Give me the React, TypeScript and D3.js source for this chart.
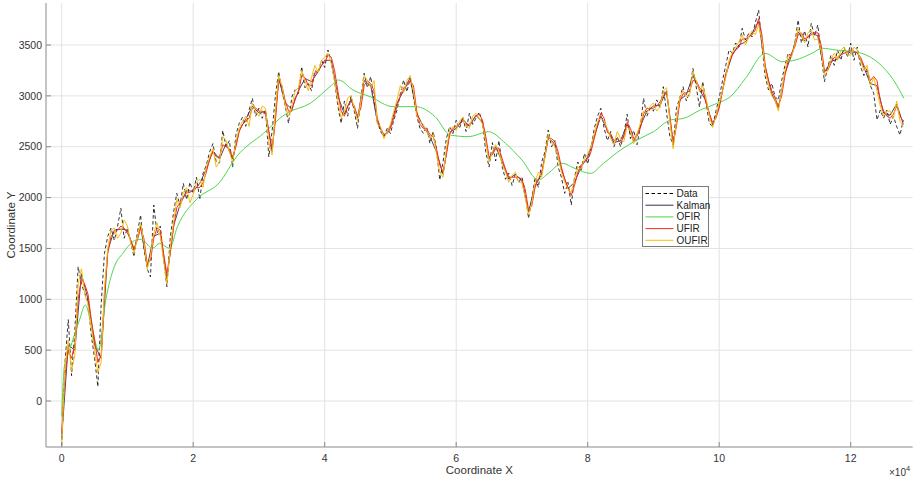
import React from "react";
import * as d3 from "d3";

// ---- data ----
const DATA_STEP = 500; // x spacing of measured samples
const FINE_STEP = 500; // x spacing of UFIR / OUFIR outputs
const KALMAN_STEP = 1000; // x spacing of Kalman outputs

const dataY: number[] = [
  -440, 380, 800, 250, 700, 1320, 1150, 1060, 980, 650,
  420, 141, 950, 1450, 1620, 1700, 1580, 1720, 1895, 1600,
  1700, 1560, 1419, 1650, 1829, 1500, 1300, 1222, 1927, 1650,
  1720, 1400, 1124, 1600, 1850, 2042, 1920, 2140, 1980, 2150,
  2050, 2200, 1980, 2240, 2320, 2450, 2530, 2350, 2340, 2660,
  2500, 2560, 2300, 2620, 2730, 2790, 2700, 2860, 2976, 2800,
  2880, 2780, 2860, 2400, 2650, 3000, 3238, 3050, 2900, 2730,
  2990, 3060, 3020, 3287, 3080, 3120, 3050, 3250, 3222, 3353,
  3280, 3451, 3330, 3150, 2900, 2730, 2950, 2800, 3000, 2850,
  2681, 2980, 3222, 3080, 3190, 2950, 2750, 2650, 2599, 2680,
  2630, 2760, 2861, 3020, 3156, 3040, 3172, 2990, 2800, 2680,
  2632, 2697, 2533, 2650, 2480, 2173, 2350, 2580, 2697, 2630,
  2760, 2680, 2795, 2650, 2829, 2720, 2780, 2840, 2740, 2450,
  2300, 2540, 2360, 2560, 2300, 2180, 2240, 2120, 2230, 2150,
  2200, 2050, 1796, 1980, 2200, 2100, 2350, 2450, 2664, 2500,
  2560, 2300, 2200, 2042, 2150, 1927, 2200, 2350, 2260, 2435,
  2330, 2480, 2680, 2800, 2878, 2680, 2560, 2650, 2500, 2600,
  2500, 2620, 2820, 2580, 2660, 2520, 2690, 2976, 2800, 2880,
  2850, 2960, 2880, 3090, 2830, 2600, 2517, 2880, 2980, 3090,
  2950, 3040, 3271, 3090, 2890, 3140, 2930, 2730, 2697, 2850,
  2980, 3150, 3300, 3451, 3420, 3520, 3480, 3664, 3549, 3615,
  3580, 3720, 3844, 3500, 3189, 3058, 3123, 2992, 2959, 3150,
  3300, 3420, 3385, 3517, 3746, 3520, 3640, 3480, 3713, 3590,
  3697, 3420, 3140, 3280, 3400, 3300, 3451, 3350, 3480, 3380,
  3517, 3350, 3480, 3287, 3200, 3250, 3100, 3025, 2763, 2861,
  2780, 2861, 2720, 2800, 2697, 2615, 2760,
];

const kalmanY: number[] = [
  -360, 550, 500, 1250, 1000, 550, 420, 1480, 1680, 1690,
  1680, 1480, 1720, 1320, 1620, 1650, 1200, 1720, 1930, 2070,
  2060, 2140, 2280, 2460, 2380, 2530, 2380, 2660, 2770, 2900,
  2830, 2850, 2450, 3170, 2930, 2870, 3050, 3170, 3140, 3240,
  3350, 3350, 3000, 2820, 2970, 2780, 3150, 3100, 2750, 2600,
  2700, 2930, 3050, 3180, 2830, 2700, 2600, 2450, 2230, 2640,
  2680, 2770, 2700, 2810, 2740, 2380, 2500, 2350, 2180, 2230,
  2160, 1860, 2120, 2230, 2600, 2520, 2280, 2090, 2150, 2300,
  2400, 2600, 2800, 2660, 2540, 2560, 2720, 2550, 2700, 2850,
  2900, 2910, 3050, 2510, 2960, 3010, 3200, 3060, 2950, 2710,
  2900, 3200, 3410, 3500, 3530, 3620, 3730, 3280, 3020, 2880,
  3220, 3400, 3630, 3540, 3620, 3590, 3230, 3340, 3360, 3450,
  3420, 3430, 3280, 3120, 3100, 2830, 2810, 2920, 2720,
];

const ufirY: number[] = [
  -300, 250, 500, 420, 550, 1000, 1200, 1150, 1050, 800,
  600, 380, 450, 1050, 1450, 1620, 1650, 1680, 1720, 1700,
  1650, 1580, 1500, 1580, 1700, 1600, 1350, 1380, 1600, 1700,
  1680, 1450, 1250, 1450, 1700, 1900, 1950, 2000, 2050, 2050,
  2080, 2100, 2100, 2150, 2250, 2380, 2450, 2400, 2400, 2520,
  2500, 2480, 2400, 2500, 2650, 2720, 2750, 2780, 2880, 2880,
  2850, 2850, 2820, 2650, 2480, 2750, 3150, 3100, 2950, 2850,
  2850, 2980, 3030, 3200, 3180, 3100, 3100, 3220, 3250, 3300,
  3330, 3400, 3380, 3250, 3050, 2850, 2800, 2900, 2950, 2900,
  2800, 2880, 3100, 3150, 3120, 3050, 2780, 2680, 2620, 2630,
  2680, 2780, 2900, 3000, 3080, 3100, 3150, 3100, 2850, 2720,
  2680, 2680, 2620, 2600, 2480, 2320, 2250, 2420, 2620, 2680,
  2700, 2720, 2750, 2720, 2720, 2760, 2800, 2820, 2760, 2600,
  2400, 2420, 2480, 2480, 2380, 2280, 2200, 2200, 2200, 2200,
  2180, 2080, 1880, 1920, 2100, 2180, 2250, 2400, 2580, 2580,
  2550, 2450, 2300, 2180, 2100, 2020, 2120, 2250, 2320, 2350,
  2380, 2450, 2580, 2720, 2830, 2780, 2640, 2620, 2560, 2580,
  2540, 2600, 2740, 2680, 2580, 2600, 2680, 2820, 2880, 2870,
  2880, 2900, 2940, 3000, 3030, 2800, 2550, 2700, 2940, 3020,
  3030, 3050, 3150, 3150, 3080, 3050, 2930, 2820, 2740, 2780,
  2880, 3050, 3220, 3320, 3400, 3450, 3480, 3560, 3560, 3580,
  3600, 3650, 3760, 3600, 3300, 3150, 3050, 2980, 2900, 3000,
  3200, 3350, 3420, 3480, 3600, 3620, 3560, 3580, 3600, 3620,
  3620, 3500, 3250, 3250, 3320, 3380, 3380, 3400, 3420, 3430,
  3450, 3440, 3420, 3380, 3300, 3250, 3150, 3190, 3150, 2950,
  2850, 2800, 2780, 2820, 2900, 2800, 2750,
];

const oufirY: number[] = [
  -420, 350, 600, 300, 450, 1150, 1300, 1050, 950, 720,
  500, 280, 380, 1100, 1500, 1680, 1700, 1600, 1650, 1780,
  1720, 1550, 1450, 1600, 1750, 1560, 1300, 1420, 1650, 1750,
  1620, 1380, 1150, 1500, 1750, 1980, 1900, 2050, 2100, 1950,
  2030, 2150, 2180, 2100, 2300, 2400, 2480, 2300, 2350, 2600,
  2560, 2450, 2350, 2550, 2680, 2750, 2800, 2700, 2930, 2850,
  2800, 2900, 2880, 2550, 2420, 2850, 3200, 3100, 2900, 2800,
  2900, 3050, 3080, 3250, 3150, 3050, 3180, 3300, 3230, 3350,
  3380, 3420, 3320, 3150, 2950, 2780, 2850, 2980, 3000, 2880,
  2750, 2950, 3200, 3150, 3080, 3150, 2720, 2700, 2580, 2650,
  2720, 2850, 2960, 3100, 3030, 3150, 3200, 3050, 2800, 2750,
  2720, 2650, 2580, 2620, 2430, 2250, 2200, 2480, 2660, 2700,
  2660, 2750, 2790, 2700, 2680, 2800, 2830, 2780, 2720, 2550,
  2350, 2450, 2520, 2450, 2330, 2250, 2150, 2220, 2250, 2150,
  2150, 2000, 1830, 1950, 2150, 2250, 2200, 2400, 2620, 2550,
  2500, 2400, 2250, 2150, 2080, 2050, 2180, 2300, 2280, 2380,
  2430, 2500, 2630, 2750, 2780, 2750, 2680, 2580, 2520, 2650,
  2580, 2550, 2700, 2650, 2530, 2620, 2730, 2850, 2830, 2900,
  2930, 2850, 2890, 3050, 3080, 2750, 2480, 2750, 2980, 3050,
  2990, 3000, 3240, 3150, 3040, 3100, 2980, 2800, 2690, 2800,
  2930, 3050, 3180, 3350, 3430, 3480, 3530, 3600, 3500, 3580,
  3640, 3600, 3700, 3550, 3250, 3100, 3000, 2950, 2850, 3050,
  3250, 3400, 3380, 3500, 3660, 3600, 3520, 3620, 3650, 3550,
  3560, 3450, 3200, 3250, 3360, 3420, 3350, 3450, 3480, 3400,
  3400, 3480, 3450, 3350, 3250, 3300, 3100, 3180, 3050, 2900,
  2800, 2850, 2850, 2780, 2950, 2750, 2700,
];

const ofirX: number[] = [
  0, 400, 1200, 2700, 3600, 4600, 5600, 6700, 8000, 9300,
  11300, 12100, 13800, 14900, 16400, 17600, 20400, 24100, 26600, 30700,
  34200, 37800, 40800, 42100, 44300, 46900, 50400, 53800, 56800, 59100,
  61900, 64900, 67500, 70000, 72500, 74000, 76100, 78000, 80400, 82400,
  85000, 87500, 90000, 92600, 94600, 97100, 99700, 101700, 104000, 107000,
  109600, 111600, 114100, 115700, 117700, 120200, 121700, 124300, 126500, 128100,
];
const ofirY: number[] = [
  -154, 337, 501, 796, 944, 720, 501, 993, 1320, 1452,
  1583, 1590, 1501, 1550, 1501, 1714, 1976, 2156, 2402, 2632,
  2829, 2927, 3090, 3156, 3058, 2992, 2894, 2894, 2795, 2615,
  2599, 2648, 2533, 2369, 2173, 2238, 2337, 2288, 2238, 2337,
  2468, 2566, 2648, 2763, 2779, 2861, 2927, 2992, 3172, 3418,
  3336, 3353, 3418, 3468, 3451, 3434, 3418, 3320, 3156, 2976,
];

const xTicks: number[] = [0, 20000, 40000, 60000, 80000, 100000, 120000];
const xTickLabels: string[] = ["0", "2", "4", "6", "8", "10", "12"];
const yTicks: number[] = [0, 500, 1000, 1500, 2000, 2500, 3000, 3500];

const seriesNames: string[] = ["Data", "Kalman", "OFIR", "UFIR", "OUFIR"];
const seriesColors: string[] = ["#000000", "#3b2a55", "#4cd64c", "#ff2a1a", "#f5bd10"];

// ---- layout ----
const W = 920;
const H = 483;
const L = 46;
const R = 912.7;
const T = 3;
const B = 447;
const FONT = "'Liberation Sans', Arial, Helvetica, sans-serif";

export default function App() {
  const x = d3.scaleLinear().domain([-2388, 129430]).range([L, R]);
  const y = d3.scaleLinear().domain([-452, 3913]).range([B, T]);

  const pts = (ys: number[], step: number): [number, number][] =>
    ys.map((v, i) => [i * step, v]);

  const line = d3
    .line<[number, number]>()
    .x((d) => x(d[0]))
    .y((d) => y(d[1]));
  const smooth = d3
    .line<[number, number]>()
    .x((d) => x(d[0]))
    .y((d) => y(d[1]))
    .curve(d3.curveMonotoneX);

  const ofirPts: [number, number][] = ofirX.map((v, i) => [v, ofirY[i]]);

  const paths = [
    { d: line(pts(dataY, DATA_STEP)), c: seriesColors[0], dash: "3.5,2.5", w: 0.8 },
    { d: line(pts(kalmanY, KALMAN_STEP)), c: seriesColors[1], dash: undefined, w: 0.9 },
    { d: smooth(ofirPts), c: seriesColors[2], dash: undefined, w: 1 },
    { d: line(pts(ufirY, FINE_STEP)), c: seriesColors[3], dash: undefined, w: 1 },
    { d: line(pts(oufirY, FINE_STEP)), c: seriesColors[4], dash: undefined, w: 1 },
  ];

  const legX = 642.5;
  const legY = 186.5;
  const legW = 66;
  const legH = 60;

  return (
    <svg
      width={W}
      height={H}
      style={{ position: "absolute", left: 0, top: 0, background: "#fff" }}
      fontFamily={FONT}
    >
      <rect x={0} y={0} width={W} height={H} fill="#ffffff" />
      {/* grid */}
      {xTicks.map((t) => (
        <line key={"gx" + t} x1={x(t)} x2={x(t)} y1={T} y2={B} stroke="#e3e3e3" strokeWidth={1} />
      ))}
      {yTicks.map((t) => (
        <line key={"gy" + t} x1={L} x2={R} y1={y(t)} y2={y(t)} stroke="#e3e3e3" strokeWidth={1} />
      ))}
      <defs>
        <clipPath id="plotclip">
          <rect x={L} y={T} width={R - L} height={B - T} />
        </clipPath>
      </defs>
      <g clipPath="url(#plotclip)">
        {paths.map((p, i) => (
          <path
            key={i}
            d={p.d || ""}
            fill="none"
            stroke={p.c}
            strokeWidth={p.w}
            strokeDasharray={p.dash}
            strokeLinejoin="round"
          />
        ))}
      </g>
      {/* axes */}
      <line x1={L} x2={L} y1={T} y2={B} stroke="#8a8a8a" strokeWidth={1} />
      <line x1={L} x2={R} y1={B} y2={B} stroke="#8a8a8a" strokeWidth={1} />
      {xTicks.map((t, i) => (
        <g key={"xt" + t}>
          <line x1={x(t)} x2={x(t)} y1={B} y2={B - 5} stroke="#8a8a8a" />
          <text x={x(t)} y={B + 15} textAnchor="middle" fontSize={10.5} fill="#333">
            {xTickLabels[i]}
          </text>
        </g>
      ))}
      {yTicks.map((t) => (
        <g key={"yt" + t}>
          <line x1={L} x2={L + 5} y1={y(t)} y2={y(t)} stroke="#8a8a8a" />
          <text x={L - 4} y={y(t) + 3.7} textAnchor="end" fontSize={10.5} fill="#333">
            {t}
          </text>
        </g>
      ))}
      <text x={(L + R) / 2} y={474} textAnchor="middle" fontSize={11.5} fill="#333">
        Coordinate X
      </text>
      <text
        transform={`translate(15,${(T + B) / 2}) rotate(-90)`}
        textAnchor="middle"
        fontSize={11.5}
        fill="#333"
      >
        Coordinate Y
      </text>
      <text x={889} y={476} fontSize={10} fill="#333">
        ×10
        <tspan dy={-5} fontSize={7.5}>
          4
        </tspan>
      </text>
      {/* legend */}
      <rect x={legX} y={legY} width={legW} height={legH} fill="#fff" stroke="#7a7a7a" strokeWidth={1} />
      {seriesNames.map((n, i) => {
        const yy = legY + 7 + i * 11.7;
        const p = paths[i];
        return (
          <g key={n}>
            <line
              x1={legX + 3}
              x2={legX + 31}
              y1={yy}
              y2={yy}
              stroke={p.c}
              strokeWidth={1}
              strokeDasharray={p.dash}
            />
            <text x={legX + 34} y={yy + 3.5} fontSize={10} fill="#222">
              {n}
            </text>
          </g>
        );
      })}
    </svg>
  );
}
